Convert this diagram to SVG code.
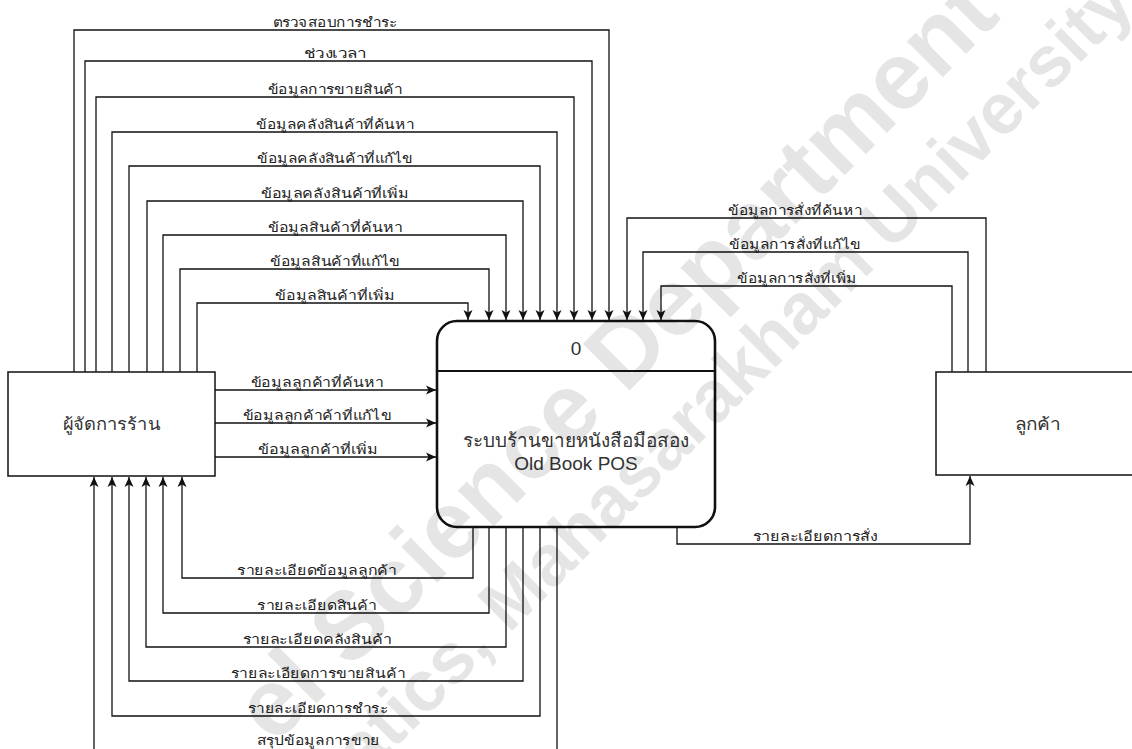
<svg xmlns="http://www.w3.org/2000/svg" width="1132" height="749" viewBox="0 0 1132 749">
  <style>
    .flow { fill: none; stroke: #111; stroke-width: 1.3; }
    .arrow { marker-end: url(#head); }
    .lbl { font-family: "Noto Sans", "DejaVu Sans", sans-serif; font-size: 13px; fill: #222; text-anchor: middle; }
    .ent { fill: #fff; stroke: #111; stroke-width: 1.5; }
    .proc { fill: #fff; stroke: #111; stroke-width: 2.6; }
    .ntxt { font-family: "Liberation Sans", "Noto Sans", "DejaVu Sans", sans-serif; font-size: 17px; fill: #333; text-anchor: middle; }
    .ptxt { font-family: "Liberation Sans", "Noto Sans", "DejaVu Sans", sans-serif; font-size: 19px; fill: #333; text-anchor: middle; }
    .wm { font-family: "Liberation Sans", Arial, sans-serif; font-weight: bold; fill: #000; fill-opacity: 0.1; }
  </style>
  <defs>
    <marker id="head" viewBox="0 0 10 10" refX="10" refY="5" markerWidth="10" markerHeight="10" markerUnits="userSpaceOnUse" orient="auto">
      <path d="M0,0.5 L10,5 L0,9.5 L2.5,5 Z" fill="#111"/>
    </marker>
  </defs>
  <rect width="1132" height="749" fill="#fff"/>

  <!-- entity: shop manager -->
  <g id="manager">
    <rect class="ent" x="8" y="372" width="207" height="104"/>
    <text class="ntxt" x="111.5" y="430" textLength="98" lengthAdjust="spacingAndGlyphs">ผู้จัดการร้าน</text>
  </g>

  <!-- entity: customer -->
  <g id="customer">
    <rect class="ent" x="936" y="372" width="204" height="103"/>
    <text class="ntxt" x="1038" y="430" textLength="46" lengthAdjust="spacingAndGlyphs">ลูกค้า</text>
  </g>

  <!-- process 0 -->
  <g id="process0">
    <rect class="proc" x="437" y="321" width="278" height="206" rx="20" ry="20"/>
    <line x1="437" y1="371" x2="715" y2="371" stroke="#111" stroke-width="2"/>
    <text class="ptxt" x="576" y="355">0</text>
    <text class="ptxt" x="576" y="447" textLength="226" lengthAdjust="spacingAndGlyphs">ระบบร้านขายหนังสือมือสอง</text>
    <text class="ptxt" x="576" y="470">Old Book POS</text>
  </g>

  <!-- data flows -->
  <g id="flows">
    <!-- manager to process, over the top -->
    <path class="flow arrow" d="M74,372 V30 H609 V320"/>
    <path class="flow arrow" d="M85,372 V61 H592 V320"/>
    <path class="flow arrow" d="M96,372 V97 H574 V320"/>
    <path class="flow arrow" d="M112,372 V132 H557 V320"/>
    <path class="flow arrow" d="M129,372 V166 H540 V320"/>
    <path class="flow arrow" d="M147,372 V201 H523 V320"/>
    <path class="flow arrow" d="M163,372 V235 H506 V320"/>
    <path class="flow arrow" d="M180,372 V269 H489 V320"/>
    <path class="flow arrow" d="M197,372 V303 H468 V320"/>

    <!-- customer to process -->
    <path class="flow arrow" d="M986,372 V218 H627 V320"/>
    <path class="flow arrow" d="M968,372 V252 H643 V320"/>
    <path class="flow arrow" d="M952,372 V286 H661 V320"/>

    <!-- manager to process, straight -->
    <path class="flow arrow" d="M215,390 H436"/>
    <path class="flow arrow" d="M215,423 H436"/>
    <path class="flow arrow" d="M215,457 H436"/>

    <!-- process back to manager, underneath -->
    <path class="flow arrow" d="M473,527 V578 H182 V477"/>
    <path class="flow arrow" d="M489,527 V613 H163 V477"/>
    <path class="flow arrow" d="M506,527 V647 H146 V477"/>
    <path class="flow arrow" d="M523,527 V681 H129 V477"/>
    <path class="flow arrow" d="M540,527 V716 H112 V477"/>
    <path class="flow arrow" d="M557,527 V751 H94 V477"/>

    <!-- process to customer -->
    <path class="flow arrow" d="M677,527 V544 H970 V476"/>

    <!-- flow labels -->
    <text class="lbl" x="335" y="27" textLength="125" lengthAdjust="spacingAndGlyphs">ตรวจสอบการชำระ</text>
    <text class="lbl" x="335" y="58" textLength="63" lengthAdjust="spacingAndGlyphs">ช่วงเวลา</text>
    <text class="lbl" x="335" y="94" textLength="135" lengthAdjust="spacingAndGlyphs">ข้อมูลการขายสินค้า</text>
    <text class="lbl" x="335" y="129" textLength="158" lengthAdjust="spacingAndGlyphs">ข้อมูลคลังสินค้าที่ค้นหา</text>
    <text class="lbl" x="335" y="163" textLength="156" lengthAdjust="spacingAndGlyphs">ข้อมูลคลังสินค้าที่แก้ไข</text>
    <text class="lbl" x="335" y="198" textLength="149" lengthAdjust="spacingAndGlyphs">ข้อมูลคลังสินค้าที่เพิ่ม</text>
    <text class="lbl" x="335" y="232" textLength="135" lengthAdjust="spacingAndGlyphs">ข้อมูลสินค้าที่ค้นหา</text>
    <text class="lbl" x="335" y="266" textLength="130" lengthAdjust="spacingAndGlyphs">ข้อมูลสินค้าที่แก้ไข</text>
    <text class="lbl" x="335" y="300" textLength="120" lengthAdjust="spacingAndGlyphs">ข้อมูลสินค้าที่เพิ่ม</text>

    <text class="lbl" x="795" y="215" textLength="134" lengthAdjust="spacingAndGlyphs">ข้อมูลการสั่งที่ค้นหา</text>
    <text class="lbl" x="795" y="249" textLength="132" lengthAdjust="spacingAndGlyphs">ข้อมูลการสั่งที่แก้ไข</text>
    <text class="lbl" x="797" y="283" textLength="120" lengthAdjust="spacingAndGlyphs">ข้อมูลการสั่งที่เพิ่ม</text>

    <text class="lbl" x="317" y="387" textLength="133" lengthAdjust="spacingAndGlyphs">ข้อมูลลูกค้าที่ค้นหา</text>
    <text class="lbl" x="317" y="420" textLength="149" lengthAdjust="spacingAndGlyphs">ข้อมูลลูกค้าค้าที่แก้ไข</text>
    <text class="lbl" x="318" y="454" textLength="120" lengthAdjust="spacingAndGlyphs">ข้อมูลลูกค้าที่เพิ่ม</text>

    <text class="lbl" x="317" y="575" textLength="160" lengthAdjust="spacingAndGlyphs">รายละเอียดข้อมูลลูกค้า</text>
    <text class="lbl" x="317" y="610" textLength="120" lengthAdjust="spacingAndGlyphs">รายละเอียดสินค้า</text>
    <text class="lbl" x="317" y="644" textLength="149" lengthAdjust="spacingAndGlyphs">รายละเอียดคลังสินค้า</text>
    <text class="lbl" x="318" y="678" textLength="174" lengthAdjust="spacingAndGlyphs">รายละเอียดการขายสินค้า</text>
    <text class="lbl" x="318" y="713" textLength="140" lengthAdjust="spacingAndGlyphs">รายละเอียดการชำระ</text>
    <text class="lbl" x="318" y="745" textLength="123" lengthAdjust="spacingAndGlyphs">สรุปข้อมูลการขาย</text>

    <text class="lbl" x="815" y="541" textLength="125" lengthAdjust="spacingAndGlyphs">รายละเอียดการสั่ง</text>
  </g>

  <!-- faint diagonal watermark across the sheet -->
  <g id="watermark">
    <text class="wm" font-size="96" x="274" y="746" transform="rotate(-45 274 746)">el Science Department</text>
    <text class="wm" font-size="72" x="1137" y="6" text-anchor="end" transform="rotate(-45 1137 6)">Informatics, Mahasarakham University</text>
  </g>
</svg>
